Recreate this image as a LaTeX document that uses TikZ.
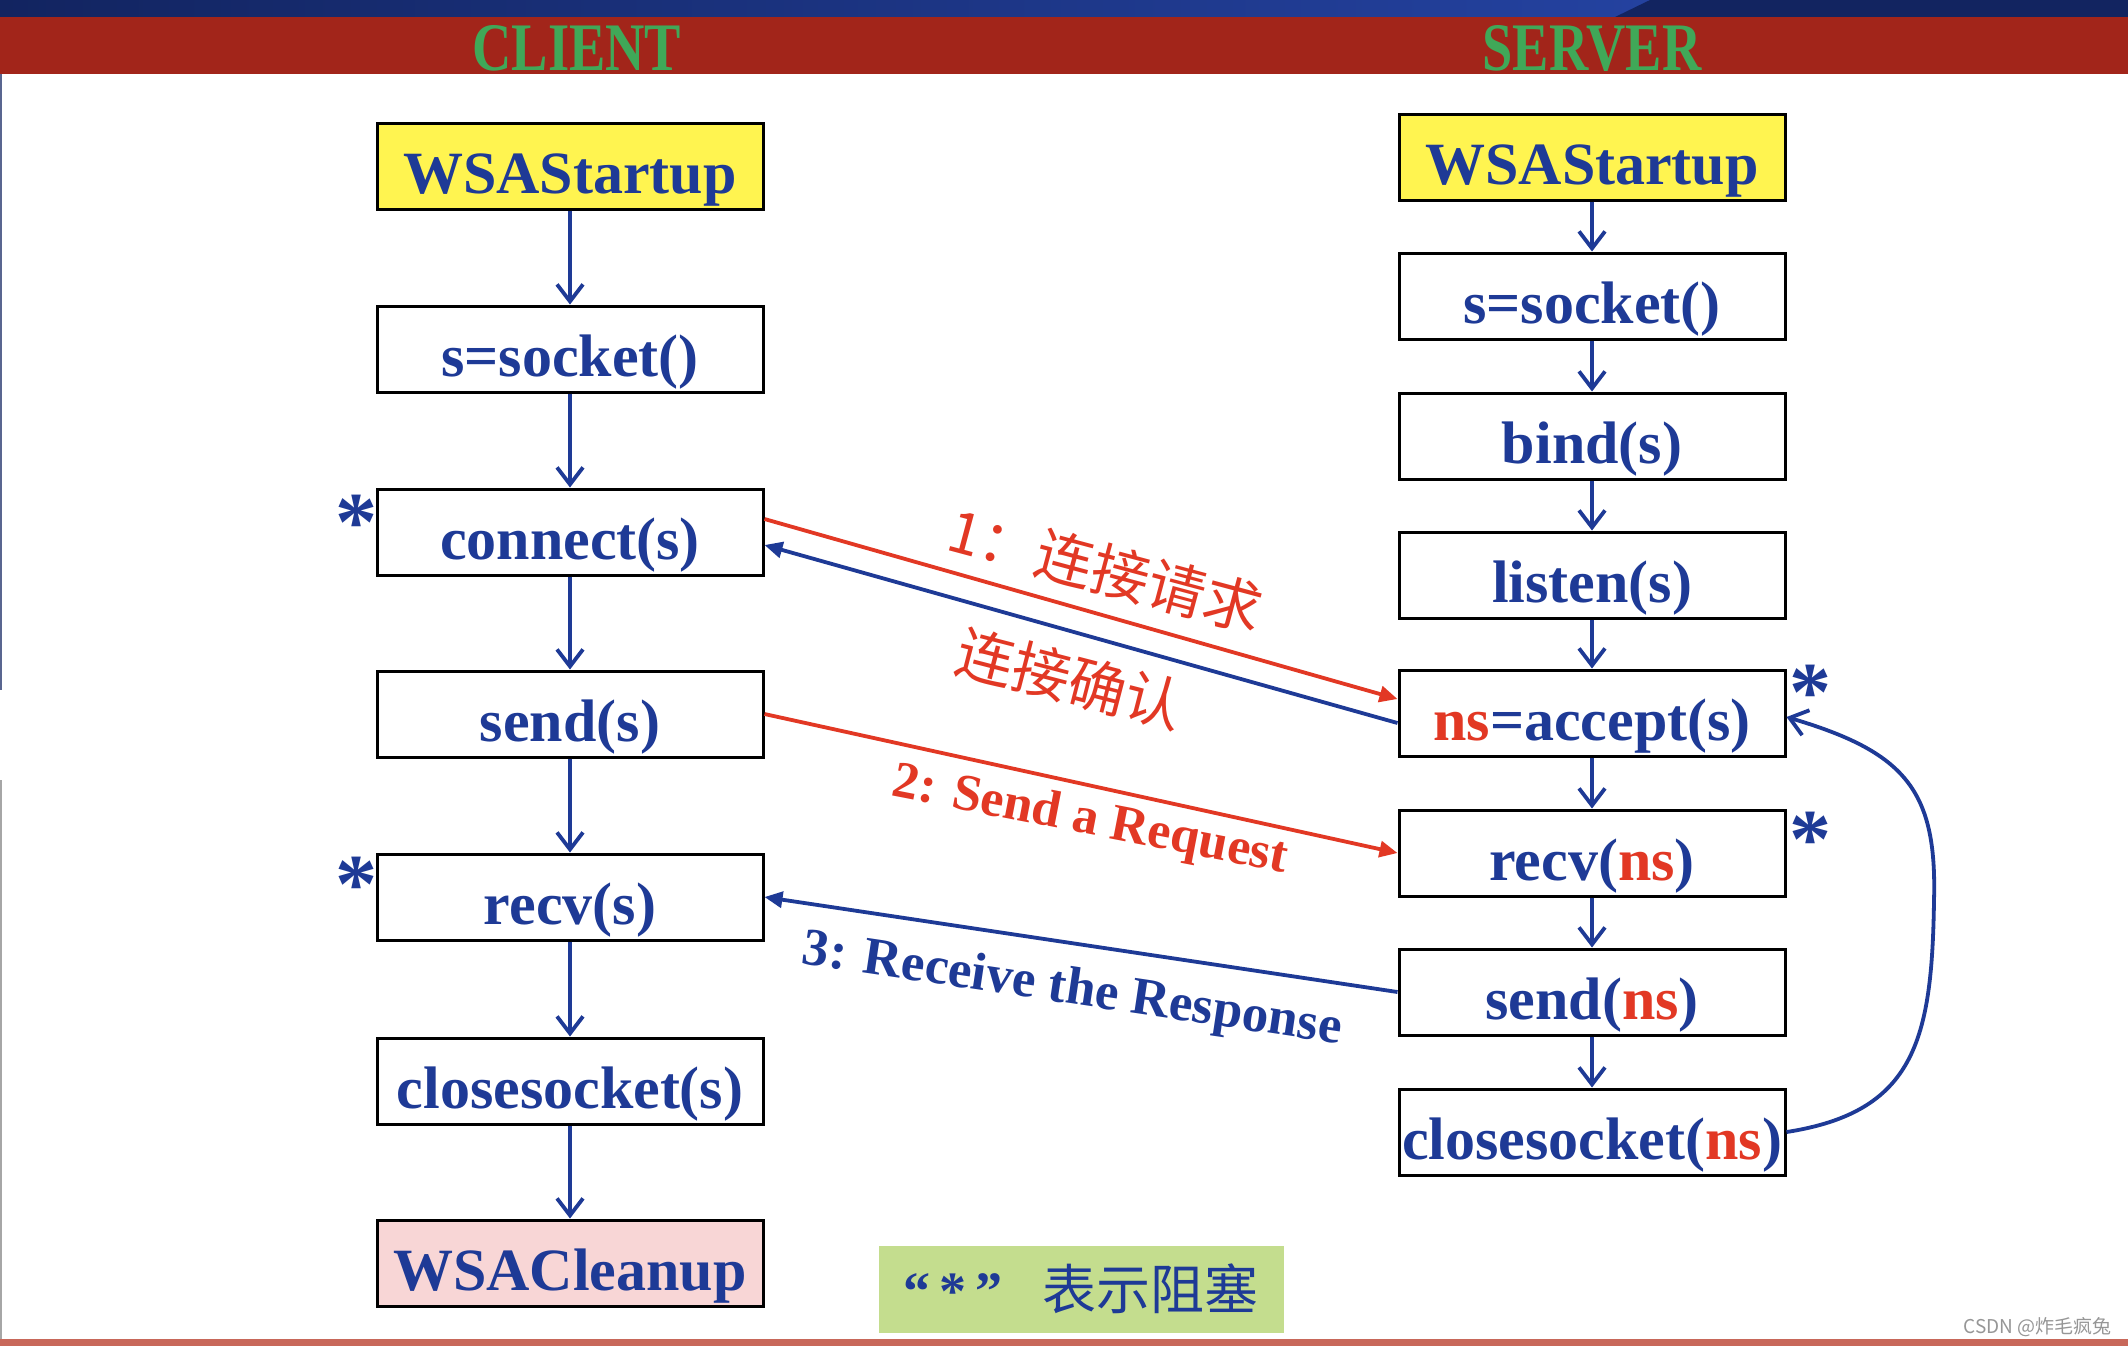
\documentclass[tikz,border=0pt]{standalone}
\usepackage{graphicx}
\usepackage{fontspec}
\setmainfont{Liberation Serif}
\newfontfamily\cjk{Noto Sans CJK SC}
\usetikzlibrary{arrows.meta}
\definecolor{tblue}{RGB}{30,58,150}
\definecolor{tred}{RGB}{226,56,36}
\definecolor{wsay}{RGB}{255,244,80}
\definecolor{wsap}{RGB}{248,214,214}
\definecolor{legg}{RGB}{196,221,142}
\definecolor{hred}{RGB}{162,37,26}
\definecolor{hgreen}{RGB}{64,168,88}
\definecolor{hblue}{RGB}{36,66,160}
\definecolor{hnavy}{RGB}{18,36,96}
\definecolor{wmgray}{RGB}{150,150,150}
\definecolor{botred}{RGB}{200,104,90}
\begin{document}
\begin{tikzpicture}[x=0.5pt,y=-0.5pt,
  fbox/.style={draw=black,line width=1.5pt,minimum width=193pt,inner sep=0pt,
    text height=35pt,text depth=8pt,text=tblue,font=\fontsize{30}{30}\selectfont\bfseries},
  flow/.style={draw=tblue,line width=1.9pt,-{Straight Barb[length=8.5pt,width=13pt,line width=1.9pt]}},
  redmsg/.style={draw=tred,line width=1.9pt,-{Triangle[length=9pt,width=8pt]}},
  bluemsg/.style={draw=tblue,line width=1.9pt,-{Triangle[length=9pt,width=8pt]}},
  starmark/.style={text=tblue,font=\fontsize{42}{42}\selectfont\bfseries,inner sep=0pt,anchor=base},
  hdr/.style={text=hgreen,font=\fontsize{34}{34}\selectfont\bfseries,inner sep=0pt}
]
\useasboundingbox (0,0) rectangle (2128,1346);
\fill[white] (0,0) rectangle (2128,1346);
% header
\shade[left color=hnavy,right color=hblue] (0,0) rectangle (1660,17);
\fill[hnavy] (1615,17) -- (1650,0) -- (2128,0) -- (2128,17) -- cycle;
\fill[hred] (0,17) rectangle (2128,74);
\node[hdr] (hc) at (577,48) {\scalebox{0.8}[1]{CLIENT}};
\node[hdr] (hs) at (1592,48) {\scalebox{0.8}[1]{SERVER}};
% edges of the slide
\fill[hnavy!70] (0,74) rectangle (2,690);
\fill[black!35] (0,780) rectangle (2,1340);
\fill[botred] (0,1339) rectangle (2128,1346);

% client column
\node[fbox,fill=wsay] (c1) at (570,166) {WSAStartup};
\node[fbox] (c2) at (570,349) {s=socket()};
\node[fbox] (c3) at (570,532) {connect(s)};
\node[fbox] (c4) at (570,714) {send(s)};
\node[fbox] (c5) at (570,897) {recv(s)};
\node[fbox] (c6) at (570,1081) {closesocket(s)};
\node[fbox,fill=wsap] (c7) at (570,1263) {WSACleanup};
\foreach \a/\b in {c1/c2,c2/c3,c3/c4,c4/c5,c5/c6,c6/c7}
  \draw[flow] (\a.south) -- (\b.north);

% server column
\node[fbox,fill=wsay] (s1) at (1592,157) {WSAStartup};
\node[fbox] (s2) at (1592,296) {s=socket()};
\node[fbox] (s3) at (1592,436) {bind(s)};
\node[fbox] (s4) at (1592,575) {listen(s)};
\node[fbox] (s5) at (1592,713) {\textcolor{tred}{ns}=accept(s)};
\node[fbox] (s6) at (1592,853) {recv(\textcolor{tred}{ns})};
\node[fbox] (s7) at (1592,992) {send(\textcolor{tred}{ns})};
\node[fbox] (s8) at (1592,1132) {closesocket(\textcolor{tred}{ns})};
\foreach \a/\b in {s1/s2,s2/s3,s3/s4,s4/s5,s5/s6,s6/s7,s7/s8}
  \draw[flow] (\a.south) -- (\b.north);

% blocking marks
\node[starmark] (k1) at (356,550) {*};
\node[starmark] (k2) at (356,912) {*};
\node[starmark] (k3) at (1810,720) {*};
\node[starmark] (k4) at (1810,867) {*};

% messages
\draw[redmsg] ([yshift=6.5pt]c3.east) -- ([yshift=7pt]s5.west);
\draw[bluemsg] ([yshift=-5pt]s5.west) -- ([yshift=-6.5pt]c3.east);
\draw[redmsg] (c4.east) -- (s6.west);
\draw[bluemsg] (s7.west) -- (c5.east);
\draw[flow] (s8.east) .. controls (1915,1112) and (1932,1040) .. (1934,900)
  .. controls (1937,790) and (1905,752) .. ([yshift=-2pt]s5.east);

% message labels
\node[rotate=-15,text=tred,font=\cjk\fontsize{29}{29}\selectfont] (l1) at (1106,570) {1：连接请求};
\node[rotate=-14.5,text=tred,font=\cjk\fontsize{29}{29}\selectfont] (l2) at (1070,679) {连接确认};
\node[rotate=-11,text=tred,font=\fontsize{26}{26}\selectfont\bfseries] (l3) at (1090,822) {2: Send a Request};
\node[rotate=-8.5,text=tblue,font=\fontsize{26.5}{27}\selectfont\bfseries] (l4) at (1072,991) {3: Receive the Response};

% legend
\node[fill=legg,minimum width=202.5pt,minimum height=43.5pt,inner sep=0pt,text=tblue] (lg) at (1081,1289)
  {\fontsize{27}{27}\selectfont\textbf{“\,*\,”}\hspace{20pt}{\cjk 表示阻塞}};

% watermark
\node[anchor=east,text=wmgray,font=\cjk\fontsize{9.5}{10}\selectfont,inner sep=0pt] (wm) at (2112,1327) {CSDN @炸毛疯兔};
\end{tikzpicture}
\end{document}
